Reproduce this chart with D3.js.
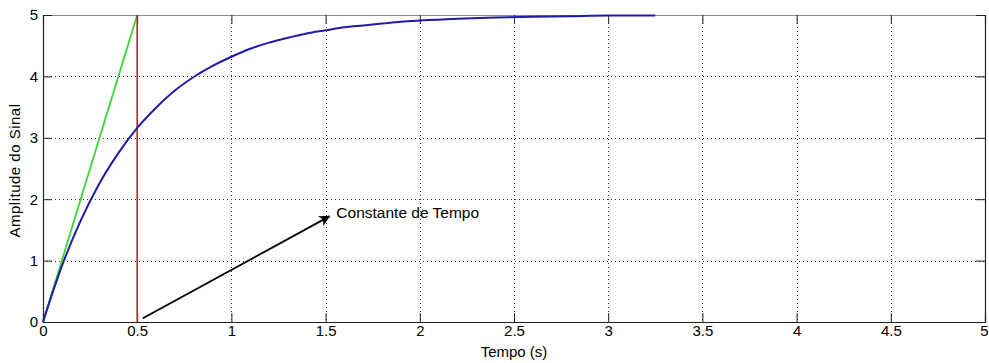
<!DOCTYPE html>
<html>
<head>
<meta charset="utf-8">
<script src="https://cdn.jsdelivr.net/npm/d3@7"></script>
<style>
  html, body { margin: 0; padding: 0; background: #fff; }
  svg { display: block; }
  text { font-family: "Liberation Sans", Arial, Helvetica, sans-serif; fill: #000; }
</style>
</head>
<body>
<div id="chart"></div>
<script>
// Step response samples: time (s) and signal amplitude
const tempo = [0, 0.1, 0.2, 0.3, 0.4, 0.5, 0.6, 0.7, 0.8, 0.9, 1.0, 1.1, 1.2, 1.3, 1.4,
               1.5, 1.6, 1.7, 1.8, 1.9, 2.0, 2.2, 2.4, 2.6, 2.8, 3.0, 3.25];
const amplitude = [0, 0.91, 1.65, 2.26, 2.75, 3.16, 3.49, 3.77, 3.99, 4.17, 4.32, 4.45, 4.55,
                   4.63, 4.70, 4.75, 4.80, 4.83, 4.86, 4.89, 4.91, 4.94, 4.96, 4.97, 4.98, 4.99, 4.99];

// Time constant construction: tangent at origin and vertical marker
const tangentX = [0, 0.5];
const tangentY = [0, 5];
const markerX = [0.5, 0.5];
const markerY = [0, 5];

// Annotation arrow (tail -> head) and its label
const arrowX = [0.53, 1.52];
const arrowY = [0.06, 1.72];
const annotationText = "Constante de Tempo";

const xTicks = [0, 0.5, 1, 1.5, 2, 2.5, 3, 3.5, 4, 4.5, 5];
const yTicks = [0, 1, 2, 3, 4, 5];
const xLabel = "Tempo (s)";
const yLabel = "Amplitude do Sinal";

const W = 989, H = 363;
const margin = { left: 43, right: 4, top: 15, bottom: 41 };
const plotW = W - margin.left - margin.right;
const plotH = H - margin.top - margin.bottom;

const svg = d3.select("#chart").append("svg").attr("width", W).attr("height", H);
const g = svg.append("g").attr("transform", `translate(${margin.left},${margin.top})`);

const x = d3.scaleLinear().domain([0, 5]).range([0, plotW]);
const y = d3.scaleLinear().domain([0, 5]).range([plotH, 0]);

// Dotted grid
g.append("g").selectAll("line").data(xTicks.slice(1, -1)).join("line")
  .attr("x1", d => Math.round(x(d)) + 0.5).attr("x2", d => Math.round(x(d)) + 0.5)
  .attr("y1", 0).attr("y2", plotH)
  .attr("stroke", "#333").attr("stroke-width", 1).attr("stroke-dasharray", "1,3");
g.append("g").selectAll("line").data(yTicks.slice(1, -1)).join("line")
  .attr("y1", d => Math.round(y(d)) + 0.5).attr("y2", d => Math.round(y(d)) + 0.5)
  .attr("x1", 0).attr("x2", plotW)
  .attr("stroke", "#333").attr("stroke-width", 1).attr("stroke-dasharray", "1,3");

// Axes with inward ticks on all four sides
const tickLen = 9;
const fmt = d => String(d);
const axB = g.append("g").attr("transform", `translate(0,${plotH})`)
  .call(d3.axisBottom(x).tickValues(xTicks).tickSize(-tickLen).tickPadding(3).tickFormat(fmt));
const axT = g.append("g")
  .call(d3.axisTop(x).tickValues(xTicks).tickSize(-tickLen).tickFormat(""));
const axL = g.append("g")
  .call(d3.axisLeft(y).tickValues(yTicks).tickSize(-tickLen).tickPadding(5).tickFormat(fmt));
const axR = g.append("g").attr("transform", `translate(${plotW},0)`)
  .call(d3.axisRight(y).tickValues(yTicks).tickSize(-tickLen).tickFormat(""));

[axB, axT, axL, axR].forEach(a => {
  a.selectAll(".domain").attr("stroke", "#222").attr("stroke-width", 1.2);
  a.selectAll(".tick line").attr("stroke", "#222");
  a.selectAll(".tick text").attr("font-size", 15)
    .attr("font-family", '"Liberation Sans", Arial, sans-serif').attr("fill", "#000");
});
axT.select(".domain").attr("stroke", "#888");
// keep the last x label inside the frame
axB.selectAll(".tick text").filter(d => d === xTicks[xTicks.length - 1]).attr("dx", -1);

// Curves
const line = d3.line().x(d => x(d[0])).y(d => y(d[1]));

g.append("path").datum(tangentX.map((t, i) => [t, tangentY[i]]))
  .attr("d", line).attr("fill", "none").attr("stroke", "#3ad63a").attr("stroke-width", 1.8);

g.append("path").datum(markerX.map((t, i) => [t, markerY[i]]))
  .attr("d", line).attr("fill", "none").attr("stroke", "#b3262a").attr("stroke-width", 1.6);

g.append("path").datum(tempo.map((t, i) => [t, amplitude[i]]))
  .attr("d", line.curve(d3.curveMonotoneX)).attr("fill", "none").attr("stroke", "#1c1ca8").attr("stroke-width", 2)
  .attr("stroke-linejoin", "round");

// Annotation arrow
svg.append("defs").append("marker")
  .attr("id", "head").attr("viewBox", "0 0 10 10").attr("refX", 9).attr("refY", 5)
  .attr("markerWidth", 12).attr("markerHeight", 11).attr("orient", "auto")
  .attr("markerUnits", "userSpaceOnUse")
  .append("path").attr("d", "M0,0 L10,5 L0,10 L2.5,5 Z").attr("fill", "#000");

g.append("line")
  .attr("x1", x(arrowX[0])).attr("y1", y(arrowY[0]))
  .attr("x2", x(arrowX[1])).attr("y2", y(arrowY[1]))
  .attr("stroke", "#000").attr("stroke-width", 1.8).attr("marker-end", "url(#head)");

g.append("text")
  .attr("x", x(arrowX[1]) + 7).attr("y", y(arrowY[1]) + 2)
  .attr("font-size", 15.5).text(annotationText);

// Axis titles
svg.append("text")
  .attr("x", margin.left + plotW / 2).attr("y", H - 6)
  .attr("text-anchor", "middle").attr("font-size", 15).text(xLabel);

svg.append("text")
  .attr("transform", `translate(20,${margin.top + plotH / 2 + 2}) rotate(-90)`)
  .attr("text-anchor", "middle").attr("font-size", 15).attr("letter-spacing", 0.5).text(yLabel);
</script>
</body>
</html>
